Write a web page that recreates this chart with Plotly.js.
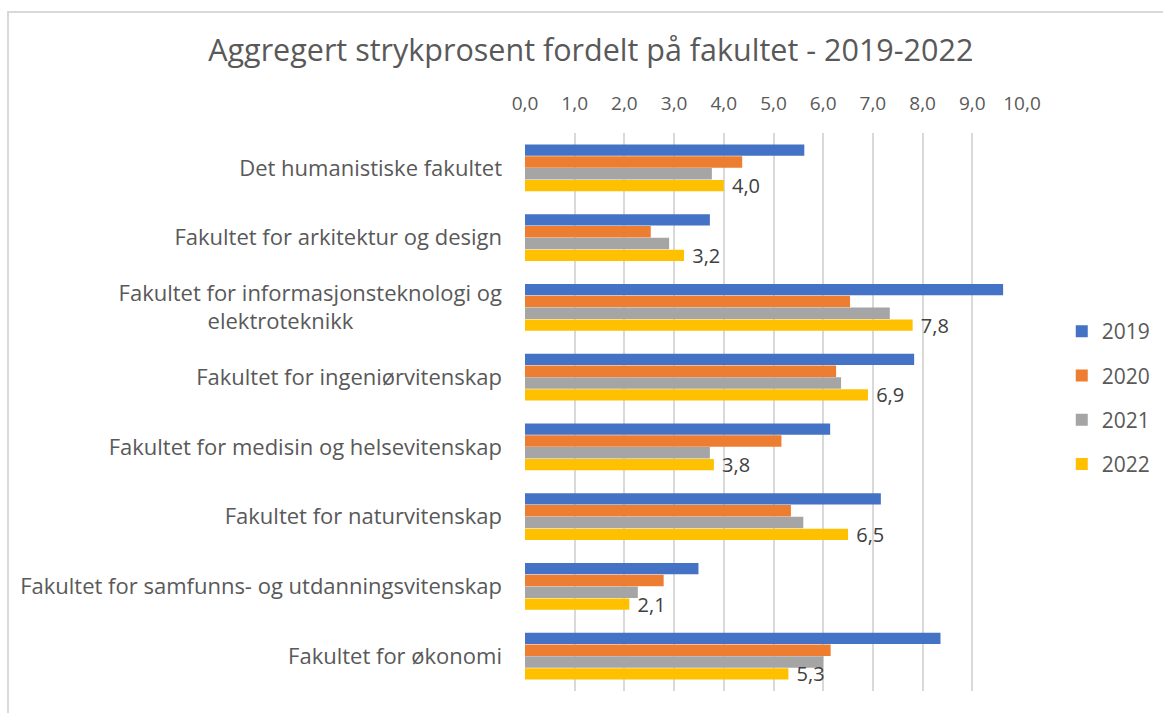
<!DOCTYPE html>
<html>
<head>
<meta charset="utf-8">
<script src="https://cdn.plot.ly/plotly-3.0.1.min.js"></script>
<style>
html,body{margin:0;padding:0;overflow:hidden;background:#fff;}
#chart{width:1163px;height:713px;}
#frame{position:absolute;left:7px;top:11px;width:1200px;height:760px;border:2px solid #d9d9d9;pointer-events:none;box-sizing:border-box;}
</style>
</head>
<body>
<div id="chart"></div>
<div id="frame"></div>
<script>
const categories = [
  "Det humanistiske fakultet",
  "Fakultet for arkitektur og design",
  "Fakultet for informasjonsteknologi og<br>elektroteknikk",
  "Fakultet for ingeniørvitenskap",
  "Fakultet for medisin og helsevitenskap",
  "Fakultet for naturvitenskap",
  "Fakultet for samfunns- og utdanningsvitenskap",
  "Fakultet for økonomi"
];
const years = ["2019", "2020", "2021", "2022"];
const v2019 = [5.62, 3.72, 9.62, 7.83, 6.14, 7.16, 3.49, 8.36];
const v2020 = [4.37, 2.53, 6.54, 6.26, 5.16, 5.35, 2.79, 6.15];
const v2021 = [3.76, 2.90, 7.34, 6.36, 3.72, 5.60, 2.27, 6.00];
const v2022 = [4.0, 3.2, 7.8, 6.9, 3.8, 6.5, 2.1, 5.3];
const tickValues = [0,1,2,3,4,5,6,7,8,9,10];

const colors = ["#4472C4", "#ED7D31", "#A5A5A5", "#FFC000"];
const series = [v2019, v2020, v2021, v2022];
const FONT = "'Open Sans', 'Liberation Sans', sans-serif";

const traces = series.map((vals, i) => ({
  type: "bar",
  orientation: "h",
  name: years[i],
  x: vals,
  y: categories,
  legendgroup: years[i],
  marker: {color: colors[i], line: {width: 0}},
  texttemplate: i === 3 ? "\u00a0%{x:.1f}" : "",
  textposition: i === 3 ? "outside" : "none",
  constraintext: "none",
  textfont: {family: FONT, size: 20, color: "#404040"},
  cliponaxis: false,
  hoverinfo: "x+name"
}));

const ticktext = categories.map(c => c.includes("<br>")
  ? c + "\u00a0".repeat(26)
  : c);

const layout = {
  width: 1163, height: 713,
  separators: ", ",
  paper_bgcolor: "#ffffff",
  plot_bgcolor: "#ffffff",
  font: {family: FONT, color: "#595959"},
  title: {text: "Aggregert strykprosent fordelt på fakultet - 2019-2022",
          font: {family: FONT, size: 30.5, color: "#595959"},
          x: 0.508, xanchor: "center", y: 0.93, yanchor: "middle"},
  margin: {l: 525, r: 141, t: 133, b: 22, autoexpand: false},
  barmode: "group",
  bargap: 0.32,
  bargroupgap: 0.04,
  xaxis: {
    side: "top", range: [0, 10], tickvals: tickValues, tickformat: ".1f",
    showgrid: true, gridcolor: "#d9d9d9", gridwidth: 2,
    zeroline: false, showline: false, ticks: "",
    tickfont: {family: FONT, size: 19, color: "#595959"},
    ticklabelstandoff: 18
  },
  yaxis: {
    autorange: "reversed", type: "category",
    tickvals: categories, ticktext: ticktext,
    showgrid: false, zeroline: false, showline: false, ticks: "",
    tickfont: {family: FONT, size: 22, color: "#595959"},
    ticklabelstandoff: 22
  },
  legend: {
    x: 1.08, xanchor: "left", y: 0.525, yanchor: "middle",
    font: {family: FONT, size: 21, color: "#595959"},
    traceorder: "grouped", tracegroupgap: 14,
    itemwidth: 30
  },
  showlegend: true
};

Plotly.newPlot("chart", traces, layout, {displayModeBar: false, staticPlot: true});
</script>
</body>
</html>
